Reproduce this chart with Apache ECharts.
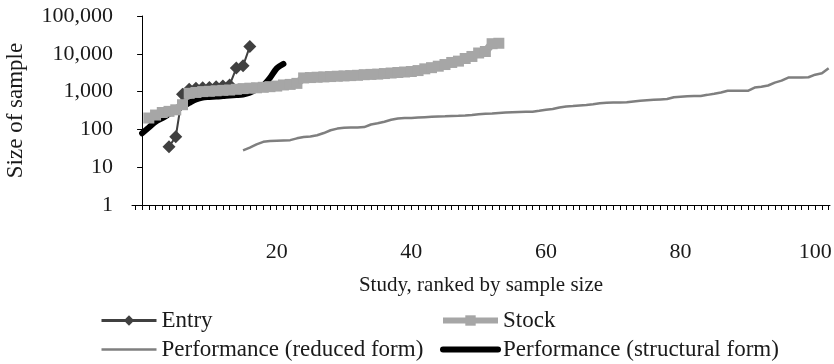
<!DOCTYPE html>
<html>
<head>
<meta charset="utf-8">
<script src="https://cdn.jsdelivr.net/npm/echarts@6/dist/echarts.min.js"></script>
<style>
html,body{margin:0;padding:0;background:#fff}
#chart{width:834px;height:364px}
</style>
</head>
<body>
<div id="chart"></div>
<script>
// x labels on the rank axis
let xLabels = [20, 40, 60, 80, 100]

// first rank of each series, then sample sizes in rank order
let entryStart = 4
let entry = [35, 64, 850, 1150, 1230, 1260, 1290, 1350, 1400, 1490, 4200, 4800, 15500]

let stockStart = 1
let stock = [200, 240, 280, 300, 330, 450, 900, 950, 1000, 1020,
	1050, 1080, 1100, 1150, 1200, 1230, 1260, 1300, 1350, 1400,
	1500, 1550, 1650, 2300, 2350, 2400, 2450, 2500, 2550, 2600,
	2650, 2700, 2800, 2850, 2900, 3000, 3100, 3200, 3300, 3400,
	3600, 4000, 4300, 4700, 5200, 5900, 6400, 7500, 8500, 10500,
	11500, 18500, 19000]

let reducedStart = 15
let reduced = [28, 33, 40, 47, 49, 50, 51, 52, 58, 63,
	65, 70, 80, 95, 105, 110, 112, 113, 115, 135,
	145, 160, 180, 195, 200, 200, 205, 210, 215, 220,
	222, 225, 228, 232, 240, 250, 258, 265, 273, 280,
	285, 290, 293, 295, 310, 330, 345, 380, 405, 415,
	430, 445, 465, 490, 510, 515, 518, 520, 550, 575,
	590, 605, 620, 635, 710, 730, 750, 760, 770, 820,
	880, 950, 1050, 1050, 1050, 1050, 1280, 1350, 1450, 1730,
	1950, 2350, 2350, 2350, 2400, 2800, 3050, 4150]

let structuralStart = 0
let structural = [79, 112, 160, 200, 255, 325, 400, 500, 620, 700,
	720, 740, 760, 790, 810, 840, 935, 1140, 1450, 2300,
	4100, 5400]

function ranked(start, vals) {
	return vals.map((v, i) => [start + i, v])
}

let tickRanks = []
for (let i = -1; i <= 102; i++) tickRanks.push(i)

let font = "Liberation Serif"
let ink = "#1a1a1a"
let legendText = { fontFamily: font, fontSize: 23, color: ink }

var myChart = echarts.init(document.getElementById("chart"))
myChart.setOption({
	animation: false,
	textStyle: { fontFamily: font, color: ink },
	grid: { left: 132, right: 4, top: 16, bottom: 159, outerBoundsMode: "none" },
	legend: [
		{
			left: 100, top: 309, orient: "vertical", itemGap: 6, padding: 0,
			itemWidth: 55, itemHeight: 13,
			textStyle: legendText,
			data: [
				{ name: "Entry", lineStyle: { width: 3 } },
				{ name: "Performance (reduced form)", itemStyle: { opacity: 0 }, lineStyle: { width: 2.5 } }
			]
		},
		{
			left: 440, top: 309, orient: "vertical", itemGap: 6, padding: 0,
			itemWidth: 55, itemHeight: 13,
			textStyle: legendText,
			data: [
				{ name: "Stock", lineStyle: { width: 6 }, itemStyle: { opacity: 1 } },
				{ name: "Performance (structural form)", itemStyle: { opacity: 0 }, lineStyle: { width: 6, cap: "round" } }
			]
		}
	],
	xAxis: {
		type: "value",
		min: -1.5,
		max: 102.2,
		name: "Study, ranked by sample size",
		nameLocation: "middle",
		nameGap: 70,
		nameTextStyle: { fontFamily: font, fontSize: 21, color: ink },
		splitLine: { show: false },
		axisLine: { lineStyle: { color: "#000", width: 1 } },
		axisTick: { length: 5, customValues: tickRanks, lineStyle: { color: "#000" } },
		axisLabel: {
			customValues: xLabels,
			margin: 36,
			fontFamily: font, fontSize: 22, color: ink
		}
	},
	yAxis: {
		type: "log",
		logBase: 10,
		min: 1,
		max: 100000,
		name: "Size of sample",
		nameLocation: "middle",
		nameGap: 105,
		nameTextStyle: { fontFamily: font, fontSize: 23, color: ink },
		splitLine: { show: false },
		axisLine: { show: true, lineStyle: { color: "#000", width: 1 } },
		axisTick: { show: true, length: 5, lineStyle: { color: "#000" } },
		axisLabel: {
			margin: 19,
			fontFamily: font, fontSize: 22, color: ink,
			formatter: v => Number(v).toLocaleString("en-US")
		}
	},
	series: [
		{
			name: "Entry",
			type: "line",
			data: ranked(entryStart, entry),
			symbol: "diamond",
			symbolSize: 13,
			color: "#404040",
			lineStyle: { width: 2, color: "#404040" },
			itemStyle: { color: "#404040" }
		},
		{
			name: "Stock",
			type: "line",
			data: ranked(stockStart, stock),
			symbol: "rect",
			symbolSize: 11,
			color: "#a6a6a6",
			lineStyle: { width: 8, color: "#a6a6a6" },
			itemStyle: { color: "#a6a6a6" }
		},
		{
			name: "Performance (reduced form)",
			type: "line",
			data: ranked(reducedStart, reduced),
			symbol: "none",
			color: "#7f7f7f",
			lineStyle: { width: 2.5, color: "#7f7f7f" }
		},
		{
			name: "Performance (structural form)",
			type: "line",
			data: ranked(structuralStart, structural),
			symbol: "none",
			smooth: 0.3,
			color: "#000",
			lineStyle: { width: 6, color: "#000", cap: "round" }
		}
	]
})
</script>
</body>
</html>
